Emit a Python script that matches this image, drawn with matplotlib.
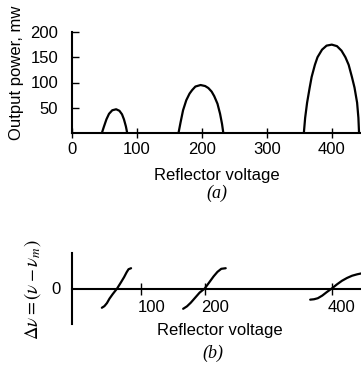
import matplotlib
matplotlib.use("Agg")
import matplotlib.pyplot as plt
import matplotlib.transforms as mtransforms

plt.rcParams['font.family'] = ['Liberation Sans', 'DejaVu Sans']
plt.rcParams['mathtext.fontset'] = 'stix'

# (a) output power modes: reflector voltage vs power (mw)
mode1_v = [46, 49, 53, 57, 62, 68, 73, 77, 80, 83, 85]
mode1_p = [0, 12, 27, 38, 45, 47, 44, 37, 27, 13, 0]
mode2_v = [164, 167, 171, 176, 181, 185, 190, 198, 205, 210, 215, 219, 224, 228, 231, 233]
mode2_p = [0, 20, 45, 65, 78, 85, 92, 95, 93, 89, 82, 73, 58, 38, 18, 0]
mode3_v = [357, 359, 362, 366, 369, 374, 378, 385, 392, 400, 408, 415, 421, 426, 431, 435, 439, 441, 442]
mode3_p = [0, 30, 60, 90, 111, 135, 150, 165, 173, 175, 172, 163, 150, 135, 111, 90, 60, 30, 0]

# (b) frequency deviation around each mode
dev1_v = [38, 42, 46, 50, 55, 62, 68, 73, 77, 80, 84]
dev1_d = [-0.95, -0.87, -0.72, -0.5, -0.28, 0, 0.3, 0.56, 0.8, 0.95, 1.0]
dev2_v = [166, 172, 178, 185, 192, 200, 207, 214, 220, 226, 233]
dev2_d = [-1.0, -0.88, -0.7, -0.45, -0.2, 0, 0.3, 0.6, 0.82, 0.97, 1.0]
dev3_v = [366, 372, 378, 385, 392, 400, 408, 416, 424, 432, 440, 446]
dev3_d = [-0.55, -0.53, -0.48, -0.35, -0.18, 0, 0.2, 0.38, 0.52, 0.63, 0.7, 0.74]

top_xticks = [0, 100, 200, 300, 400]
top_yticks = [50, 100, 150, 200]
bot_xticks = [100, 200, 400]

W, H = 361, 367
fig = plt.figure(figsize=(W / 100, H / 100), dpi=100)

def box(l, r, t, b):
    return [l / W, 1 - b / H, (r - l) / W, (b - t) / H]

# --- panel (a) ---
ax1 = fig.add_axes(box(72, 361, 32, 133))
for v, p in [(mode1_v, mode1_p), (mode2_v, mode2_p), (mode3_v, mode3_p)]:
    ax1.plot(v, p, color='black', lw=1.6, solid_capstyle='round')
ax1.set_xlim(0, 445)
ax1.set_ylim(0, 200)
ax1.spines['top'].set_visible(False)
ax1.spines['right'].set_visible(False)
for s in ('left', 'bottom'):
    ax1.spines[s].set_linewidth(1.5)
ax1.set_xticks(top_xticks)
ax1.set_yticks(top_yticks)
ax1.tick_params(axis='x', direction='inout', length=7, width=1, pad=3, labelsize=12)
ax1.tick_params(axis='y', direction='in', length=5, width=1, pad=10, labelsize=12)
ax1.set_xlabel('Reflector voltage', fontsize=12)
ax1.xaxis.set_label_coords(0.50, -0.35)
ax1.set_ylabel('Output power, mw', fontsize=12)
ax1.yaxis.set_label_coords(-0.165, 0.60)
ax1.patch.set_alpha(0)

# --- panel (b) ---
ax2 = fig.add_axes(box(72, 361, 253, 324))
for v, d in [(dev1_v, dev1_d), (dev2_v, dev2_d), (dev3_v, dev3_d)]:
    ax2.plot(v, d, color='black', lw=1.6, solid_capstyle='round')
ax2.set_xlim(-9, 446)
ax2.set_ylim(-1.75, 1.75)
ax2.spines['top'].set_visible(False)
ax2.spines['right'].set_visible(False)
ax2.spines['bottom'].set_position(('data', 0))
for s in ('left', 'bottom'):
    ax2.spines[s].set_linewidth(1.5)
ax2.set_xticks(bot_xticks)
ax2.set_yticks([0])
ax2.tick_params(axis='x', direction='inout', length=9, width=1, pad=4, labelsize=12)
ax2.tick_params(axis='y', length=0, pad=8, labelsize=12)
offset = mtransforms.ScaledTranslation(0.10, 0, fig.dpi_scale_trans)
for lab in ax2.get_xticklabels():
    lab.set_transform(lab.get_transform() + offset)
ax2.set_xlabel('Reflector voltage', fontsize=12)
ax2.xaxis.set_label_coords(0.51, 0.01)
ax2.set_ylabel(r'$\Delta\nu = (\nu - \nu_m)$', fontsize=13.5)
ax2.yaxis.set_label_coords(-0.10, 0.48)
ax2.patch.set_alpha(0)

# captions
fig.text(217 / W, 1 - 193 / H, '(a)', ha='center', va='center', fontsize=13,
         family='Liberation Serif', style='italic')
fig.text(213 / W, 1 - 353 / H, '(b)', ha='center', va='center', fontsize=13,
         family='Liberation Serif', style='italic')

fig.savefig('out.png', dpi=100)
